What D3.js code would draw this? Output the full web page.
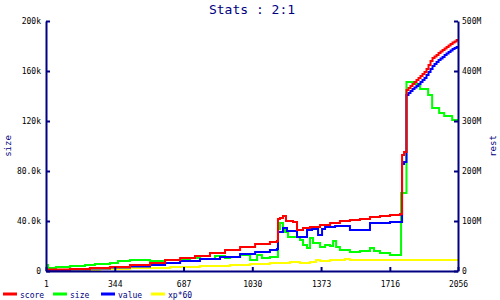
<!DOCTYPE html>
<html>
<head>
<meta charset="utf-8">
<script src="https://cdn.jsdelivr.net/npm/d3@7"></script>
<style>
  body { margin: 0; background: #fff; }
  text { font-family: "DejaVu Sans Mono", monospace; }
</style>
</head>
<body>
<div id="chart"></div>
<script>
// steps: [index, value] -- score/value/xp in M (right axis), size in k (left axis)
var xTicks = [1, 344, 687, 1030, 1373, 1716, 2056];
var leftTicks = [0, 40, 80, 120, 160, 200];
var leftLabels = ['0', '40.0k', '80.0k', '120k', '160k', '200k'];
var rightTicks = [0, 100, 200, 300, 400, 500];
var rightLabels = ['0', '100M', '200M', '300M', '400M', '500M'];

var score = [[1,3],[121,4],[220,6],[320,8],[420,12],[520,16],[595,22],[670,26],[744,30],[819,36],
	[894,42],[969,48],[1044,54],[1118,58],[1153,60],[1158,104],[1168,106],[1183,110],[1198,100],
	[1233,98],[1253,82],[1283,86],[1318,88],[1368,92],[1418,96],[1467,100],[1517,102],[1567,104],
	[1617,108],[1667,110],[1717,112],[1767,114],[1777,232],[1787,238],[1799,362],[1809,366],
	[1819,370],[1829,374],[1839,378],[1849,382],[1859,386],[1869,390],[1879,394],[1889,398],
	[1899,404],[1909,412],[1919,420],[1929,426],[1939,429],[1949,432],[1959,436],[1969,439],
	[1979,442],[1989,445],[1999,448],[2009,451],[2019,454],[2029,457],[2039,459],[2049,462],[2056,462]];

var size = [[1,4.8],[11,2.4],[51,3.2],[121,4],[196,4.8],[245,5.6],[320,6.4],[360,8],[420,8.8],
	[520,8],[595,8.8],[719,10.4],[769,9.6],[844,12],[894,10.4],[919,11.2],[969,12.8],[1019,8.8],
	[1054,12.8],[1078,10.4],[1118,11.2],[1158,33.6],[1168,38.4],[1183,34.4],[1193,31.2],
	[1208,27.2],[1268,24.8],[1283,20.8],[1303,18.4],[1318,26.4],[1333,22.4],[1368,19.2],
	[1393,20.8],[1418,20],[1433,24],[1448,19.2],[1467,16.8],[1517,15.2],[1567,16],[1617,18.4],
	[1637,16],[1667,14.4],[1717,12.8],[1772,62.4],[1799,151.2],[1832,149.6],[1867,145.6],
	[1907,140.8],[1927,130.4],[1962,126.4],[1987,124],[2027,120.8],[2056,120.8]];

var value = [[1,2],[121,3],[220,5],[320,7],[420,9],[520,12],[595,16],[670,20],[769,24],[869,28],
	[969,34],[1044,38],[1118,42],[1153,44],[1158,78],[1183,86],[1203,80],[1253,68],[1303,82],
	[1328,84],[1358,72],[1378,84],[1393,88],[1443,90],[1517,82],[1617,96],[1717,98],[1777,214],
	[1787,218],[1799,352],[1809,356],[1819,360],[1829,364],[1839,367],[1849,370],[1859,374],
	[1869,378],[1879,382],[1889,386],[1899,392],[1909,398],[1919,404],[1929,410],[1939,414],
	[1949,418],[1959,422],[1969,425],[1979,428],[1989,432],[1999,435],[2009,438],[2019,441],
	[2029,444],[2039,446],[2049,448],[2056,448]];

var xp60 = [[1,0],[46,2],[270,4],[420,6],[620,8],[769,10],[919,12],[1019,14],[1118,16],[1218,18],
	[1268,16],[1318,18],[1348,22],[1368,20],[1418,22],[1492,24],[1517,22],[2056,22]];

var legendNames = ['score', 'size', 'value', 'xp*60'];
var colors = ['#ff0000', '#00ff00', '#0000ff', '#ffff00'];

var W = 500, H = 300;
var M = { L: 46, R: 42, T: 21, B: 29 };
var navy = '#000080';

var svg = d3.select('#chart').append('svg')
	.attr('width', W)
	.attr('height', H);

var x = d3.scaleLinear().domain([1, 2056]).range([M.L, W - M.R]);
var yL = d3.scaleLinear().domain([0, 200]).range([H - M.B, M.T]);
var yR = d3.scaleLinear().domain([0, 500]).range([H - M.B, M.T]);

svg.append('clipPath').attr('id', 'clip')
	.append('rect')
	.attr('x', M.L).attr('y', M.T - 2)
	.attr('width', W - M.L - M.R).attr('height', H - M.T - M.B + 2);

var lines = svg.append('g').attr('clip-path', 'url(#clip)');

function drawSeries(data, yScale, color) {
	var line = d3.line()
		.x(d => x(d[0]))
		.y(d => yScale(d[1]))
		.curve(d3.curveStepAfter);
	lines.append('path')
		.datum(data)
		.attr('d', line)
		.attr('fill', 'none')
		.attr('stroke', color)
		.attr('stroke-width', 2);
}

drawSeries(xp60, yR, colors[3]);
drawSeries(size, yL, colors[1]);
drawSeries(value, yR, colors[2]);
drawSeries(score, yR, colors[0]);

// axes, ticks pointing inward
function styleAxis(g) {
	g.selectAll('path.domain').attr('stroke', navy).attr('stroke-width', 2);
	g.selectAll('.tick line').attr('stroke', navy).attr('stroke-width', 2);
	g.selectAll('.tick text').attr('fill', '#000').style('font-size', '8px');
}

svg.append('g')
	.attr('transform', 'translate(0,' + (H - M.B) + ')')
	.call(d3.axisTop(x).tickValues(xTicks).tickSizeInner(4).tickSizeOuter(0).tickFormat(d3.format('d')))
	.call(styleAxis)
	.call(g => g.selectAll('.tick text').attr('y', 10).attr('dy', '0.71em'));

svg.append('g')
	.attr('transform', 'translate(' + M.L + ',0)')
	.call(d3.axisRight(yL).tickValues(leftTicks).tickSizeInner(4).tickSizeOuter(0)
		.tickFormat((d, i) => leftLabels[i]))
	.call(styleAxis)
	.call(g => g.selectAll('.tick text').attr('x', -5).attr('text-anchor', 'end'));

svg.append('g')
	.attr('transform', 'translate(' + (W - M.R) + ',0)')
	.call(d3.axisLeft(yR).tickValues(rightTicks).tickSizeInner(4).tickSizeOuter(0)
		.tickFormat((d, i) => rightLabels[i]))
	.call(styleAxis)
	.call(g => g.selectAll('.tick text').attr('x', 4).attr('text-anchor', 'start'));

// title and axis names
svg.append('text')
	.attr('x', 252).attr('y', 14)
	.attr('text-anchor', 'middle')
	.attr('fill', navy)
	.style('font-size', '13px')
	.text('Stats : 2:1');

svg.append('text')
	.attr('transform', 'translate(11,146) rotate(-90)')
	.attr('text-anchor', 'middle')
	.attr('fill', navy)
	.style('font-size', '9px')
	.text('size');

svg.append('text')
	.attr('transform', 'translate(496,146) rotate(-90)')
	.attr('text-anchor', 'middle')
	.attr('fill', navy)
	.style('font-size', '9px')
	.text('rest');

// legend
var legendX = [3, 53, 101, 151];
var legend = svg.append('g');
legendNames.forEach(function(name, i) {
	legend.append('line')
		.attr('x1', legendX[i]).attr('x2', legendX[i] + 14)
		.attr('y1', 294).attr('y2', 294)
		.attr('stroke', colors[i]).attr('stroke-width', 3);
	legend.append('text')
		.attr('x', legendX[i] + 17).attr('y', 297.5)
		.attr('fill', navy)
		.style('font-size', '8px')
		.text(name);
});
</script>
</body>
</html>
